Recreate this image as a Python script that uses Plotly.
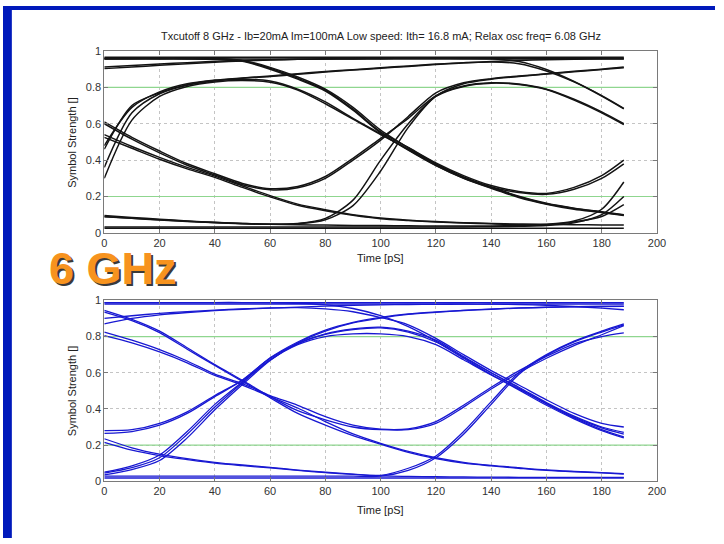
import plotly.graph_objects as go

# ---------------- data ----------------
TIME_PS = [0, 10, 20, 30, 40, 50, 60, 70, 80, 90, 100, 110, 120, 130, 140, 150, 160, 170, 180, 188]

TITLE = "Txcutoff 8 GHz - Ib=20mA Im=100mA Low speed: Ith= 16.8 mA; Relax osc freq= 6.08 GHz"
X_LABEL = "Time [pS]"
Y_LABEL = "Symbol Strength []"
BANNER = "6 GHz"
X_TICKS = [0, 20, 40, 60, 80, 100, 120, 140, 160, 180, 200]
Y_TICKS = [0, 0.2, 0.4, 0.6, 0.8, 1]
GREEN_LEVELS = [0.2, 0.8]

# eye-diagram traces, upper panel (black)
TOP_SIGNALS = [
    [0.966, 0.966, 0.966, 0.966, 0.966, 0.966, 0.966, 0.966, 0.966, 0.966, 0.966, 0.966, 0.966, 0.966, 0.966, 0.966, 0.966, 0.966, 0.966, 0.966],
    [0.956, 0.956, 0.956, 0.956, 0.956, 0.956, 0.956, 0.956, 0.956, 0.956, 0.956, 0.956, 0.956, 0.956, 0.956, 0.956, 0.956, 0.956, 0.956, 0.956],
    [0.912, 0.92, 0.928, 0.936, 0.943, 0.948, 0.952, 0.955, 0.957, 0.958, 0.959, 0.96, 0.96, 0.96, 0.96, 0.96, 0.96, 0.96, 0.96, 0.96],
    [0.903, 0.912, 0.921, 0.93, 0.938, 0.945, 0.95, 0.954, 0.956, 0.958, 0.959, 0.96, 0.96, 0.959, 0.957, 0.942, 0.898, 0.832, 0.752, 0.682],
    [0.957, 0.958, 0.958, 0.958, 0.956, 0.946, 0.905, 0.85, 0.785, 0.68, 0.555, 0.47, 0.385, 0.315, 0.26, 0.228, 0.217, 0.25, 0.315, 0.4],
    [0.962, 0.963, 0.963, 0.962, 0.958, 0.948, 0.91, 0.857, 0.79, 0.69, 0.565, 0.468, 0.38, 0.308, 0.252, 0.202, 0.163, 0.136, 0.116, 0.1],
    [0.958, 0.959, 0.959, 0.958, 0.955, 0.943, 0.9, 0.845, 0.78, 0.675, 0.55, 0.455, 0.37, 0.3, 0.245, 0.195, 0.158, 0.13, 0.112, 0.095],
    [0.30, 0.62, 0.75, 0.805, 0.83, 0.838, 0.828, 0.785, 0.71, 0.625, 0.54, 0.46, 0.375, 0.305, 0.252, 0.222, 0.212, 0.24, 0.3, 0.38],
    [0.46, 0.70, 0.77, 0.815, 0.838, 0.845, 0.835, 0.79, 0.72, 0.63, 0.545, 0.458, 0.372, 0.302, 0.248, 0.199, 0.16, 0.134, 0.114, 0.098],
    [0.36, 0.66, 0.765, 0.812, 0.835, 0.85, 0.86, 0.872, 0.884, 0.895, 0.905, 0.915, 0.925, 0.934, 0.942, 0.948, 0.952, 0.955, 0.957, 0.958],
    [0.48, 0.69, 0.775, 0.82, 0.84, 0.852, 0.863, 0.875, 0.887, 0.897, 0.908, 0.918, 0.928, 0.936, 0.94, 0.93, 0.89, 0.83, 0.755, 0.685],
    [0.61, 0.525, 0.45, 0.38, 0.325, 0.272, 0.243, 0.255, 0.31, 0.41, 0.52, 0.63, 0.755, 0.808, 0.825, 0.818, 0.79, 0.735, 0.665, 0.6],
    [0.6, 0.515, 0.44, 0.372, 0.318, 0.265, 0.237, 0.248, 0.3, 0.4, 0.51, 0.64, 0.77, 0.825, 0.848, 0.862, 0.875, 0.888, 0.9, 0.912],
    [0.54, 0.475, 0.415, 0.36, 0.312, 0.258, 0.205, 0.158, 0.127, 0.1, 0.082, 0.07, 0.062, 0.056, 0.052, 0.048, 0.046, 0.045, 0.044, 0.043],
    [0.525, 0.465, 0.405, 0.352, 0.305, 0.25, 0.198, 0.152, 0.122, 0.097, 0.078, 0.068, 0.06, 0.054, 0.05, 0.047, 0.048, 0.065, 0.13, 0.28],
    [0.095, 0.085, 0.075, 0.066, 0.058, 0.052, 0.048, 0.052, 0.08, 0.18, 0.4, 0.6, 0.75, 0.805, 0.823, 0.816, 0.788, 0.73, 0.66, 0.595],
    [0.09, 0.08, 0.071, 0.063, 0.056, 0.05, 0.047, 0.05, 0.072, 0.15, 0.34, 0.58, 0.752, 0.82, 0.845, 0.86, 0.873, 0.886, 0.898, 0.908],
    [0.025, 0.025, 0.025, 0.025, 0.025, 0.025, 0.025, 0.025, 0.025, 0.025, 0.025, 0.025, 0.025, 0.025, 0.025, 0.025, 0.025, 0.025, 0.025, 0.025],
    [0.033, 0.033, 0.033, 0.033, 0.033, 0.033, 0.033, 0.033, 0.033, 0.033, 0.033, 0.033, 0.033, 0.033, 0.034, 0.036, 0.04, 0.055, 0.1, 0.2],
    [0.088, 0.08, 0.072, 0.064, 0.057, 0.051, 0.047, 0.045, 0.043, 0.041, 0.04, 0.039, 0.038, 0.038, 0.038, 0.04, 0.045, 0.06, 0.09, 0.155],
]

# eye-diagram traces, lower panel (blue)
BOTTOM_SIGNALS = [
    [0.988, 0.988, 0.988, 0.988, 0.988, 0.988, 0.988, 0.988, 0.988, 0.988, 0.988, 0.988, 0.988, 0.988, 0.988, 0.988, 0.988, 0.988, 0.988, 0.988],
    [0.98, 0.98, 0.98, 0.98, 0.98, 0.98, 0.98, 0.98, 0.98, 0.98, 0.98, 0.98, 0.98, 0.98, 0.979, 0.977, 0.973, 0.966, 0.957, 0.948],
    [0.87, 0.9, 0.92, 0.933, 0.943, 0.951, 0.957, 0.963, 0.968, 0.972, 0.975, 0.977, 0.978, 0.979, 0.98, 0.98, 0.98, 0.98, 0.98, 0.98],
    [0.9, 0.915, 0.928, 0.938, 0.946, 0.953, 0.958, 0.96, 0.953, 0.937, 0.905, 0.865, 0.79, 0.7, 0.612, 0.532, 0.45, 0.375, 0.32, 0.3],
    [0.988, 0.988, 0.988, 0.988, 0.988, 0.988, 0.987, 0.984, 0.975, 0.955, 0.915, 0.855, 0.775, 0.685, 0.6, 0.52, 0.435, 0.36, 0.3, 0.27],
    [0.945, 0.895, 0.83, 0.738, 0.645, 0.558, 0.468, 0.39, 0.34, 0.3, 0.285, 0.285, 0.32, 0.41, 0.51, 0.6, 0.68, 0.75, 0.81, 0.86],
    [0.935, 0.888, 0.822, 0.73, 0.64, 0.552, 0.462, 0.375, 0.31, 0.252, 0.205, 0.16, 0.125, 0.1, 0.085, 0.072, 0.06, 0.052, 0.046, 0.04],
    [0.825, 0.78, 0.728, 0.665, 0.592, 0.54, 0.474, 0.42, 0.357, 0.31, 0.288, 0.29, 0.33, 0.42, 0.52, 0.61, 0.69, 0.76, 0.8, 0.82],
    [0.805, 0.765, 0.715, 0.655, 0.585, 0.532, 0.468, 0.405, 0.33, 0.262, 0.21, 0.165, 0.13, 0.105, 0.088, 0.075, 0.063, 0.055, 0.048, 0.042],
    [0.28, 0.285, 0.32, 0.384, 0.474, 0.56, 0.68, 0.762, 0.815, 0.842, 0.852, 0.83, 0.78, 0.69, 0.6, 0.515, 0.428, 0.35, 0.285, 0.245],
    [0.265, 0.275, 0.31, 0.375, 0.468, 0.558, 0.682, 0.77, 0.835, 0.878, 0.906, 0.925, 0.936, 0.945, 0.952, 0.958, 0.962, 0.965, 0.967, 0.968],
    [0.045, 0.075, 0.13, 0.26, 0.41, 0.545, 0.672, 0.76, 0.812, 0.838, 0.848, 0.825, 0.77, 0.68, 0.59, 0.505, 0.42, 0.345, 0.28, 0.24],
    [0.035, 0.065, 0.115, 0.24, 0.395, 0.535, 0.668, 0.765, 0.83, 0.875, 0.902, 0.922, 0.934, 0.944, 0.951, 0.957, 0.961, 0.964, 0.966, 0.967],
    [0.05, 0.085, 0.145, 0.275, 0.425, 0.55, 0.67, 0.755, 0.8, 0.815, 0.815, 0.8, 0.755, 0.672, 0.588, 0.51, 0.43, 0.355, 0.295, 0.26],
    [0.235, 0.185, 0.15, 0.125, 0.105, 0.09, 0.077, 0.062, 0.05, 0.04, 0.033, 0.072, 0.14, 0.275, 0.44, 0.6, 0.7, 0.775, 0.83, 0.87],
    [0.215, 0.172, 0.142, 0.12, 0.1, 0.086, 0.074, 0.06, 0.048, 0.038, 0.03, 0.027, 0.025, 0.024, 0.023, 0.022, 0.022, 0.022, 0.022, 0.022],
    [0.018, 0.018, 0.018, 0.018, 0.018, 0.018, 0.018, 0.018, 0.018, 0.018, 0.018, 0.018, 0.018, 0.018, 0.018, 0.018, 0.018, 0.018, 0.018, 0.018],
    [0.028, 0.028, 0.028, 0.028, 0.028, 0.028, 0.028, 0.028, 0.028, 0.028, 0.028, 0.06, 0.13, 0.26, 0.425, 0.59, 0.695, 0.77, 0.825, 0.865],
]

# ---------------- figure ----------------
W, H = 724, 544
FONT = "Arial, Liberation Sans, sans-serif"

def px_x(p):
    return p / W

def px_y(p):
    return 1 - p / H

fig = go.Figure()

panels = [
    ("x", "y", TOP_SIGNALS, "#141414", 1.5),
    ("x2", "y2", BOTTOM_SIGNALS, "#1818d2", 1.3),
]

for xa, ya, signals, color, width in panels:
    for lvl in GREEN_LEVELS:
        fig.add_trace(go.Scatter(x=[X_TICKS[0], X_TICKS[-1]], y=[lvl, lvl], mode="lines",
                                 line=dict(color="#8fd68f", width=1.2),
                                 xaxis=xa, yaxis=ya, showlegend=False, hoverinfo="skip"))
    for sig in signals:
        fig.add_trace(go.Scatter(x=TIME_PS, y=sig, mode="lines",
                                 line=dict(color=color, width=width, shape="spline", smoothing=0.8),
                                 xaxis=xa, yaxis=ya, showlegend=False, hoverinfo="skip"))

axis_common = dict(
    showline=True, linecolor="#7a7a7a", linewidth=1, mirror="ticks",
    ticks="inside", ticklen=4, tickcolor="#7a7a7a",
    showgrid=True, gridcolor="#c4c4c4", griddash="dot", gridwidth=1,
    zeroline=False, tickfont=dict(family=FONT, size=11, color="#333333"),
)

x_dom = [px_x(103), px_x(665)]
fig.update_layout(
    width=W, height=H,
    margin=dict(l=0, r=0, t=0, b=0),
    paper_bgcolor="white", plot_bgcolor="white",
    xaxis=dict(domain=x_dom, range=[0, 200], tickvals=X_TICKS, anchor="y", **axis_common),
    yaxis=dict(domain=[px_y(232), px_y(46)], range=[0, 1], tickvals=Y_TICKS, anchor="x", **axis_common),
    xaxis2=dict(domain=x_dom, range=[0, 200], tickvals=X_TICKS, anchor="y2", **axis_common),
    yaxis2=dict(domain=[px_y(486), px_y(301)], range=[0, 1], tickvals=Y_TICKS, anchor="x2", **axis_common),
)

label_font = dict(family=FONT, size=11, color="#222222")
ann = [
    dict(text=TITLE, x=px_x(384), y=px_y(31), font=label_font),
    dict(text=X_LABEL, x=px_x(384), y=px_y(258), font=label_font),
    dict(text=X_LABEL, x=px_x(384), y=px_y(515), font=label_font),
    dict(text=Y_LABEL, x=px_x(70), y=px_y(139), font=label_font, textangle=-90),
    dict(text=Y_LABEL, x=px_x(70), y=px_y(393), font=label_font, textangle=-90),
    dict(text="<b>" + BANNER + "</b>", x=px_x(112), y=px_y(268),
         font=dict(family=FONT, size=45, color="#f7931e", shadow="2px 2px 0px #3a3a3a")),
]
for a in ann:
    fig.add_annotation(xref="paper", yref="paper", showarrow=False,
                       xanchor="center", yanchor="middle", **a)

# slide frame (blue band at left and top)
fig.add_shape(type="rect", xref="paper", yref="paper", x0=0, x1=px_x(9), y0=0, y1=1,
              fillcolor="#0019bb", line=dict(width=0), layer="above")
fig.add_shape(type="rect", xref="paper", yref="paper", x0=0, x1=1, y0=px_y(4), y1=1,
              fillcolor="#0019bb", line=dict(width=0), layer="above")

fig.write_html("out.html", config={"displayModeBar": False},
               post_script="document.body.style.margin='0px';")
